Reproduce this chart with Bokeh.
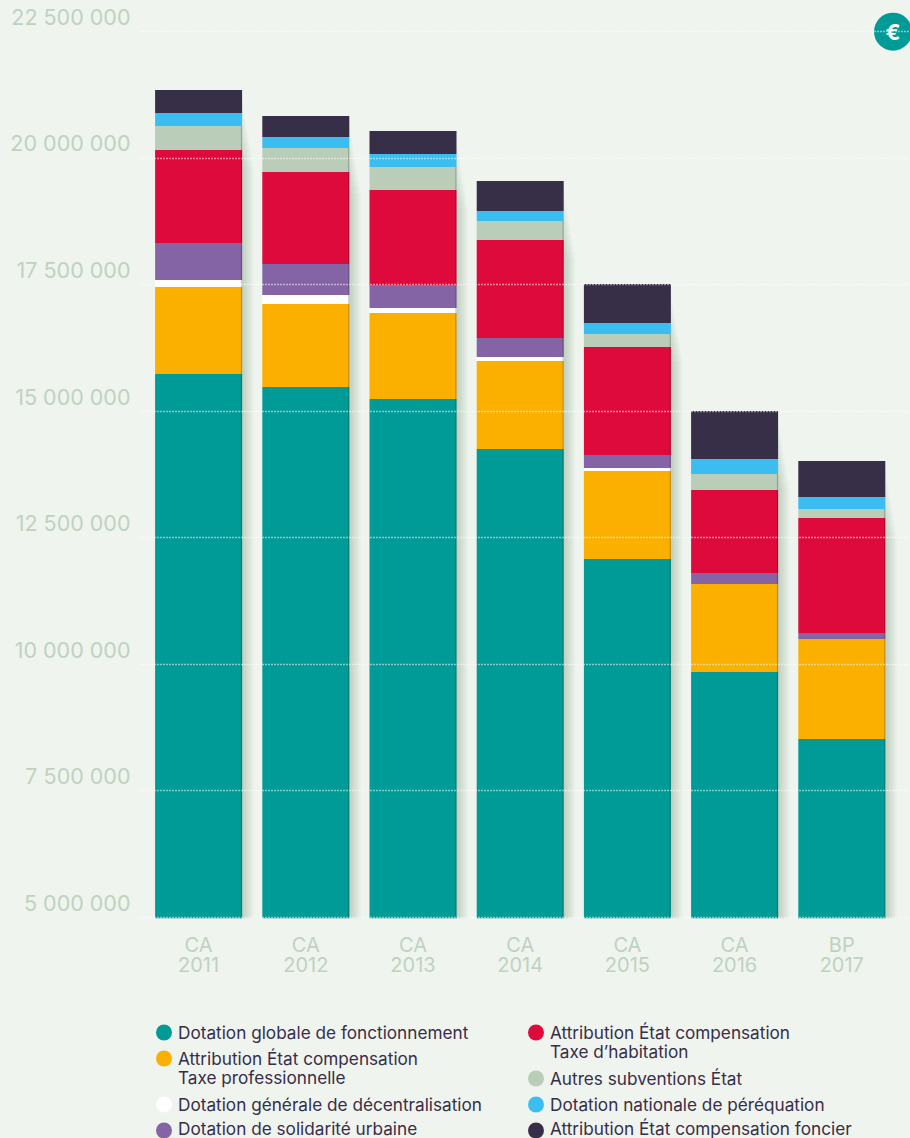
from bokeh.plotting import figure
from bokeh.layouts import column
from bokeh.models import Range1d, LinearAxis, FixedTicker, Grid
from bokeh.core.properties import value
from bokeh.embed import file_html
from bokeh.resources import INLINE

cat_top = ["CA", "CA", "CA", "CA", "CA", "CA", "BP"]
cat_year = ["2011", "2012", "2013", "2014", "2015", "2016", "2017"]
dotation_globale = [15737000, 15480000, 15243000, 14255000, 12082000, 9850000, 8526000]
compensation_tp = [1718700, 1639700, 1698900, 1738400, 1738400, 1738400, 1975500]
dotation_decentralisation = [138300, 177800, 98800, 79000, 59300, 0, 0]
dotation_solidarite = [730900, 612400, 454400, 375300, 256800, 217300, 118500]
compensation_th = [1837200, 1817500, 1876700, 1936000, 2133500, 1639700, 2271800]
autres_subventions = [474100, 474100, 454400, 375300, 256800, 316100, 177800]
dotation_perequation = [256800, 217300, 256800, 197600, 217300, 296300, 237100]
compensation_foncier = [454400, 414900, 454400, 592700, 770400, 948200, 711200]
y_ticks = [5000000, 7500000, 10000000, 12500000, 15000000, 17500000, 20000000, 22500000]
y_labels = ["5 000 000", "7 500 000", "10 000 000", "12 500 000", "15 000 000", "17 500 000", "20 000 000", "22 500 000"]
legend_labels = ["Dotation globale de fonctionnement", "Attribution État compensation\nTaxe professionnelle",
                 "Dotation générale de décentralisation", "Dotation de solidarité urbaine",
                 "Attribution État compensation\nTaxe d’habitation", "Autres subventions État",
                 "Dotation nationale de péréquation", "Attribution État compensation foncier"]

BG = "#eff4ef"
COLORS = ["#009b96", "#fbb000", "#ffffff", "#8564a6", "#de0a3c", "#b9cdb9", "#3bbdf0", "#372e48"]
AXIS_TXT = "#bfd2c0"
INK = "#372e48"
FONT = "Inter"

series = [dotation_globale, compensation_tp, dotation_decentralisation, dotation_solidarite,
          compensation_th, autres_subventions, dotation_perequation, compensation_foncier]
names = ["s%d" % i for i in range(8)]
xs = list(range(len(cat_top)))

PX_X = 107.2      # px per bar step
PX_Y = 19755.0    # value per px
LEFT, RIGHT, TOP, BOTTOM = 139, 910, 0, 918
x0 = 198.1
x_range = Range1d((LEFT - x0) / PX_X, (RIGHT - x0) / PX_X)
y_start = 5000000 - PX_Y
y_end = y_start + (BOTTOM - TOP) * PX_Y
LABEL_SHIFT = 14.7 * PX_Y

p = figure(width=910, height=1000, x_range=x_range, y_range=Range1d(y_start, y_end),
           output_backend="svg", toolbar_location=None, x_axis_location=None, y_axis_location=None,
           min_border_left=LEFT, min_border_right=0, min_border_top=0, min_border_bottom=82,
           background_fill_color=BG, border_fill_color=BG, outline_line_color=None)
p.grid.visible = False
p.extra_y_ranges = {"labels": Range1d(y_start - LABEL_SHIFT, y_end - LABEL_SHIFT)}

yaxis = LinearAxis(y_range_name="labels", ticker=FixedTicker(ticks=y_ticks),
                   major_label_overrides=dict(zip(y_ticks, y_labels)),
                   axis_line_color=None, major_tick_line_color=None, minor_tick_line_color=None,
                   major_tick_out=0, major_tick_in=0, major_label_standoff=9,
                   major_label_text_color=AXIS_TXT, major_label_text_font=FONT,
                   major_label_text_font_size="21.5px")
p.add_layout(yaxis, "left")

for labels, standoff in ((cat_top, 14), (cat_year, -3)):
    p.add_layout(LinearAxis(ticker=FixedTicker(ticks=xs),
                            major_label_overrides=dict(zip(xs, labels)),
                            axis_line_color=None, major_tick_line_color=None, minor_tick_line_color=None,
                            major_tick_out=0, major_tick_in=0, major_label_standoff=standoff,
                            major_label_text_color=AXIS_TXT, major_label_text_font=FONT,
                            major_label_text_font_size="20px"), "below")

p.add_layout(Grid(dimension=1, ticker=FixedTicker(ticks=y_ticks), grid_line_color="#ffffff",
                  grid_line_dash="1 2", grid_line_width=1.4, level="overlay"))

# soft shadow right of each bar
totals = [sum(s[i] for s in series) for i in xs]
bar_w = 87 / PX_X
for k in range(1, 13):
    p.vbar(x=[i + k / PX_X for i in xs], width=bar_w,
           top=[t - 6 * k * PX_Y - 5 * PX_Y for t in totals], bottom=0,
           fill_color="#1f5c40", fill_alpha=0.02, line_color=None)

source = {"x": xs}
source.update({n: s for n, s in zip(names, series)})
p.vbar_stack(names, x="x", width=bar_w, color=COLORS, line_color=None, source=source)

# darker right edge
edge_top = [sum(s[i] for s in series[:6]) for i in xs]
p.vbar(x=[i + (bar_w / 2 - 0.6 / PX_X) for i in xs], width=1.2 / PX_X, top=edge_top, bottom=0,
       fill_color="#000000", fill_alpha=0.2, line_color=None)

# euro badge
p.scatter([(892.5 - x0) / PX_X], [22500000], size=38, marker="circle", color="#009b96", line_color=None, level="overlay")
p.text([(892.5 - x0) / PX_X], [22500000], text=["€"], text_color="#ffffff", text_font=value(FONT),
       text_font_style="bold", text_font_size="22px", text_align="center", text_baseline="middle", level="overlay")

# legend panel
lg = figure(width=910, height=138, x_range=Range1d(LEFT, RIGHT), y_range=Range1d(1138, 1000),
            output_backend="svg", toolbar_location=None, x_axis_location=None, y_axis_location=None,
            min_border=0, min_border_left=LEFT, background_fill_color=BG, border_fill_color=BG, outline_line_color=None)
lg.grid.visible = False
dot_x = [163.5] * 4 + [535.5] * 4
dot_y = [1032, 1058, 1104, 1130, 1032, 1078, 1104, 1130]
lg.scatter(dot_x, dot_y, size=16, marker="circle", color=COLORS, line_color=None)
text_x, text_y, text_s = [], [], []
for lab, dx, dy in zip(legend_labels, dot_x, dot_y):
    for j, line in enumerate(lab.split("\n")):
        text_x.append(dx + 14)
        text_y.append(min(dy + 0.3 + j * 18.5, 1127.5))
        text_s.append(line)
lg.text(text_x, text_y, text=text_s, text_color=INK, text_font=value(FONT), text_font_size="17.2px",
        text_align="left", text_baseline="middle")

page = column(p, lg, spacing=0)
style = "{% block postamble %}<style>html,body{margin:0;padding:0;background:" + BG + ";overflow:hidden}</style>{% endblock %}"
open("out.html", "w").write(file_html(page, INLINE, template=style))
